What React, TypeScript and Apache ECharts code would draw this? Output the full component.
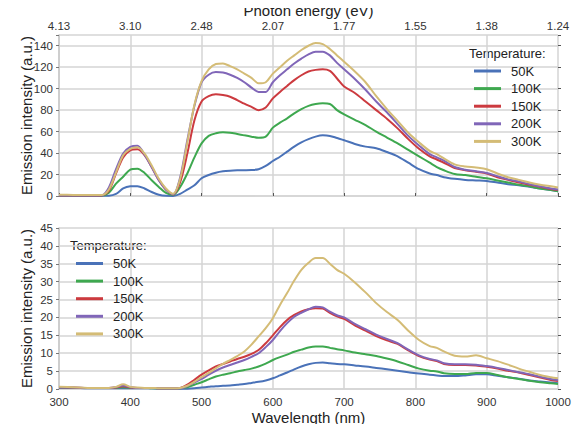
import React, { useEffect, useRef } from "react";
import * as echarts from "echarts";

const wavelengths = [300, 320, 340, 360, 370, 380, 390, 400, 410, 420, 430, 440, 450, 460, 470, 480, 490, 500, 510, 520, 530, 540, 550, 560, 570, 580, 590, 600, 610, 620, 630, 640, 650, 660, 670, 680, 690, 700, 715, 730, 745, 760, 775, 790, 805, 820, 830, 840, 855, 870, 885, 900, 915, 930, 945, 960, 975, 990, 1000];

const temperatures = ["50K", "100K", "150K", "200K", "300K"];
const colors = ["#4A72B8", "#3EA84F", "#CC3A3F", "#8066B8", "#D4BC76"];

const energyLabels = ["4.13", "3.10", "2.48", "2.07", "1.77", "1.55", "1.38", "1.24"];

// Upper panel
const top50K = [0.2, 0.2, 0.2, 0.2,
  0.3, 2, 7, 9, 9.2, 7, 3.7, 1.2, 0.2, 0.1,
  2, 6, 10, 16.5, 19.6, 21.7, 23, 23.6, 23.9, 24,
  24.2, 25, 28, 32.6, 36.6, 41.3, 46, 50, 53, 55.3,
  56.5, 56, 54, 52,
  48.5, 46, 44.5, 41, 37, 31, 25, 21,
  19.5, 17.5,
  16, 15, 14.5, 14, 12.5, 11, 10, 8.5, 7, 5.5,
  4.5];
const top100K = [0.3, 0.3, 0.3, 0.4,
  3, 11.5, 18, 24.6, 25.5, 21.5, 14.6, 8.4, 2.8, 1,
  8.4, 21, 36, 49, 56, 58.4, 59.3, 59, 57.8, 56.5,
  55.3, 54.3, 55.3, 63.7, 68.3, 72.4, 77, 81, 84, 85.7,
  86.3, 85.7, 80, 76,
  71, 66, 60, 54.5, 49, 43, 37, 31,
  27, 24,
  20.5, 19.5, 18, 16.5, 14.5, 12.5, 10.5, 9, 7, 5.5,
  4.5];
const top150K = [0.5, 0.4, 0.4, 0.5,
  5, 21, 36, 42.6, 43.5, 38, 27, 15, 6, 1.5,
  13, 39.5, 70.5, 88, 93, 94.7, 94, 92.5, 89.4, 86,
  83, 80, 82.5, 91, 97, 102.5, 108, 112.5, 116, 117.5,
  118, 116.5, 109.5, 102,
  96, 88, 80, 72, 63, 53, 44, 37,
  34, 31,
  26, 24, 22.5, 21, 17.5, 15, 12.5, 10.5, 8.5, 6.5,
  5.5];
const top200K = [0.5, 0.4, 0.4, 0.6,
  8, 25, 39.5, 45.7, 46.8, 38.5, 27, 14.6, 6, 1.5,
  17.5, 52, 84, 106, 113, 115.5, 115, 113, 110, 106,
  101, 97, 97, 106, 112.5, 118, 123.5, 128, 132, 134.5,
  134.5, 131, 124, 118,
  109, 99, 88, 78, 67, 56, 47, 39,
  36, 33,
  27, 24.5, 23, 21.5, 18.5, 15.5, 13.5, 11, 9, 7,
  6];
const top300K = [1.2, 1.0, 0.9, 0.9,
  6, 22, 38, 44, 45.5, 39.5, 28.5, 16, 7, 2,
  16, 50, 85, 107, 118, 123, 123.5, 121, 118, 114,
  110, 105, 106, 114, 120, 126, 131, 136, 140, 142.5,
  141.5, 137, 131, 125,
  116, 106, 93, 81, 70, 59, 50, 42,
  39, 35,
  29.5, 27.5, 26.5, 25, 21, 17.5, 15, 12.5, 10.5, 9,
  8];

// Lower panel
const bot50K = [0.3, 0.3, 0.2, 0.2,
  0.2, 0.2, 0.2, 0.2, 0.2, 0.2, 0.2, 0.1, 0.1, 0.1,
  0.1, 0.1, 0.2, 0.4, 0.6, 0.8, 0.9, 1.0, 1.2, 1.4,
  1.7, 2, 2.4, 3, 3.8, 4.6, 5.5, 6.3, 6.9, 7.3,
  7.4, 7.2, 7, 6.9,
  6.6, 6.3, 5.9, 5.5, 5.1, 4.7, 4.3, 4,
  3.8, 3.6,
  3.6, 3.8, 4.1, 4.1, 3.7, 3.3, 2.9, 2.4, 2.1, 1.8,
  1.6];
const bot100K = [0.4, 0.3, 0.3, 0.3,
  0.3, 0.3, 0.5, 0.3, 0.3, 0.3, 0.2, 0.2, 0.2, 0.2,
  0.2, 0.5, 1.2, 1.9, 2.7, 3.5, 4, 4.4, 4.9, 5.3,
  5.7, 6.3, 7.1, 8.1, 8.9, 9.6, 10.4, 11, 11.6, 11.9,
  11.9, 11.5, 11.1, 10.8,
  10.2, 9.7, 9.2, 8.5, 7.7, 6.7, 5.7, 5.1,
  4.9, 4.4,
  4.2, 4.2, 4.5, 4.5, 3.9, 3.3, 2.8, 2.3, 1.9, 1.6,
  1.4];
const bot150K = [0.5, 0.4, 0.3, 0.3,
  0.3, 0.4, 0.8, 0.4, 0.3, 0.3, 0.3, 0.2, 0.2, 0.2,
  0.3, 1.2, 2.6, 4, 5.2, 6.3, 7, 7.7, 8.4, 9,
  9.8, 10.9, 12.8, 15, 17.3, 19.3, 20.7, 21.7, 22.3, 22.6,
  22.5, 21.3, 20.3, 19.6,
  17.8, 16.3, 14.8, 13.6, 12.6, 10.8, 9.2, 8.2,
  7.8, 7,
  6.7, 6.7, 6.6, 6.2, 5.7, 5.1, 4.6, 3.9, 3.2, 2.5,
  2.2];
const bot200K = [0.4, 0.4, 0.3, 0.3,
  0.3, 0.5, 1.0, 0.5, 0.3, 0.3, 0.3, 0.2, 0.2, 0.2,
  0.2, 0.8, 1.8, 2.8, 4, 5.1, 6, 6.7, 7.4, 8.1,
  9, 10, 11.7, 13.7, 16.2, 18.4, 20.2, 21.3, 22.3, 23,
  22.8, 21.6, 20.6, 20,
  18.2, 16.7, 15.2, 14, 12.8, 11, 9.4, 8.4,
  8, 7.2,
  6.9, 6.9, 6.8, 6.4, 5.9, 5.3, 4.7, 4.1, 3.4, 2.8,
  2.5];
const bot300K = [0.6, 0.5, 0.3, 0.3,
  0.3, 0.6, 1.3, 0.6, 0.4, 0.3, 0.3, 0.2, 0.2, 0.2,
  0.3, 0.9, 2, 3.3, 4.5, 5.8, 7, 8.1, 9.2, 10.5,
  12.4, 14.7, 17, 19.8, 23.5, 26.8, 30.3, 33.3, 35.3, 36.6,
  36.6, 35, 33.3, 32.2,
  29.8, 27, 24, 21.5, 19.3, 16.3, 13.7, 12,
  11.5, 10.5,
  9.3, 9.1, 9.4, 8.6, 7.8, 6.8, 5.7, 4.8, 3.9, 3.3,
  3];

const topSeries = [top50K, top100K, top150K, top200K, top300K];
const botSeries = [bot50K, bot100K, bot150K, bot200K, bot300K];

const FONT = "Liberation Sans, Arial, sans-serif";
const GRID_COLOR = "#d4d4d4";
const LABEL_COLOR = "#333";

export default function App() {
  const ref = useRef<HTMLDivElement>(null);

  useEffect(() => {
    if (!ref.current) return;
    const chart = echarts.init(ref.current, undefined, { renderer: "svg" });

    const mkSeries = (arr: number[][], xi: number, yi: number) =>
      arr.map((vals, k) => ({
        name: temperatures[k],
        type: "line",
        xAxisIndex: xi,
        yAxisIndex: yi,
        data: wavelengths.map((w, i) => [w, vals[i]]),
        showSymbol: false,
        symbol: "none",
        smooth: 0.3,
        lineStyle: { width: 2, color: colors[k] },
        itemStyle: { color: colors[k] },
        z: 3 + k,
      }));

    const yTick = { show: true, length: 3, lineStyle: { color: "#777" } };
    const nameStyle = { fontFamily: FONT, fontSize: 15, color: "#222" };
    const legendCommon = {
      orient: "vertical",
      icon: "rect",
      itemWidth: 27,
      itemHeight: 3,
      itemGap: 3.6,
      padding: 0,
      data: temperatures,
      textStyle: { fontFamily: FONT, fontSize: 13, color: "#222", lineHeight: 14, padding: [0, 0, 0, 5] },
      selectedMode: false,
    };

    const option: any = {
      animation: false,
      backgroundColor: "#fff",
      textStyle: { fontFamily: FONT },
      grid: [
        { left: 59, top: 35, width: 499, height: 161 },
        { left: 59, top: 228, width: 499, height: 161 },
      ],
      xAxis: [
        {
          gridIndex: 0,
          type: "value",
          position: "top",
          min: 300,
          max: 1000,
          interval: 100,
          axisLine: { show: true, lineStyle: { color: GRID_COLOR, width: 1.5 } },
          axisTick: { show: true, length: 3, lineStyle: { color: "#555" } },
          axisLabel: {
            fontFamily: FONT,
            fontSize: 11.5,
            color: LABEL_COLOR,
            margin: 3,
            formatter: (v: number) => energyLabels[Math.round((v - 300) / 100)] ?? "",
          },
          splitLine: { show: true, lineStyle: { color: GRID_COLOR, width: 1.5 } },
        },
        {
          gridIndex: 1,
          type: "value",
          position: "bottom",
          min: 300,
          max: 1000,
          interval: 100,
          name: "Wavelength (nm)",
          nameLocation: "middle",
          nameGap: 21,
          nameMoveOverlap: false,
          nameTextStyle: nameStyle,
          axisLine: { show: true, lineStyle: { color: GRID_COLOR, width: 1.5 } },
          axisTick: { show: false },
          axisLabel: {
            fontFamily: FONT,
            fontSize: 11.5,
            color: LABEL_COLOR,
            margin: 7,
            formatter: (v: number) => String(v),
          },
          splitLine: { show: true, lineStyle: { color: GRID_COLOR, width: 1.5 } },
        },
      ],
      yAxis: [
        {
          gridIndex: 0,
          type: "value",
          min: 0,
          max: 150,
          interval: 20,
          name: "Emission intensity (a.u.)",
          nameLocation: "middle",
          nameGap: 25,
          nameMoveOverlap: false,
          nameTextStyle: nameStyle,
          axisLine: { show: true, lineStyle: { color: "#c8c8c8", width: 1.5 } },
          axisTick: yTick,
          axisLabel: {
            fontFamily: FONT,
            fontSize: 11.5,
            color: LABEL_COLOR,
            margin: 6,
            formatter: (v: number) => (v > 140 ? "" : String(v)),
          },
          splitLine: { show: true, lineStyle: { color: GRID_COLOR, width: 1.5 } },
        },
        {
          gridIndex: 1,
          type: "value",
          min: 0,
          max: 45,
          interval: 5,
          name: "Emission intensity (a.u.)",
          nameLocation: "middle",
          nameGap: 25,
          nameMoveOverlap: false,
          nameTextStyle: nameStyle,
          axisLine: { show: true, lineStyle: { color: "#c8c8c8", width: 1.5 } },
          axisTick: yTick,
          axisLabel: { fontFamily: FONT, fontSize: 11.5, color: LABEL_COLOR, margin: 6 },
          splitLine: { show: true, lineStyle: { color: GRID_COLOR, width: 1.5 } },
        },
        {
          gridIndex: 0,
          type: "value",
          position: "right",
          min: 0,
          max: 150,
          interval: 20,
          axisLine: { show: false },
          axisTick: { show: true, length: 3, lineStyle: { color: "#555" } },
          axisLabel: { show: false },
          splitLine: { show: false },
        },
        {
          gridIndex: 1,
          type: "value",
          position: "right",
          min: 0,
          max: 45,
          interval: 5,
          axisLine: { show: false },
          axisTick: { show: true, length: 3, lineStyle: { color: "#555" } },
          axisLabel: { show: false },
          splitLine: { show: false },
        },
      ],
      legend: [
        { ...legendCommon, left: 474, top: 64 },
        { ...legendCommon, left: 76, top: 256.5 },
      ],
      graphic: [
        {
          type: "text",
          x: 308.5,
          y: 3,
          style: {
            text: "Photon energy (eV)",
            fontFamily: FONT,
            fontSize: 15,
            fill: "#222",
            align: "center",
            verticalAlign: "top",
          },
        },
        {
          type: "text",
          left: 469,
          top: 47,
          style: { text: "Temperature:", fontFamily: FONT, fontSize: 13, fill: "#222" },
        },
        {
          type: "text",
          left: 70,
          top: 239,
          style: { text: "Temperature:", fontFamily: FONT, fontSize: 13, fill: "#222" },
        },
      ],
      series: [...mkSeries(topSeries, 0, 0), ...mkSeries(botSeries, 1, 1)],
    };

    chart.setOption(option);
    return () => chart.dispose();
  }, []);

  return <div ref={ref} style={{ width: 584, height: 432, margin: -8 }} />;
}
